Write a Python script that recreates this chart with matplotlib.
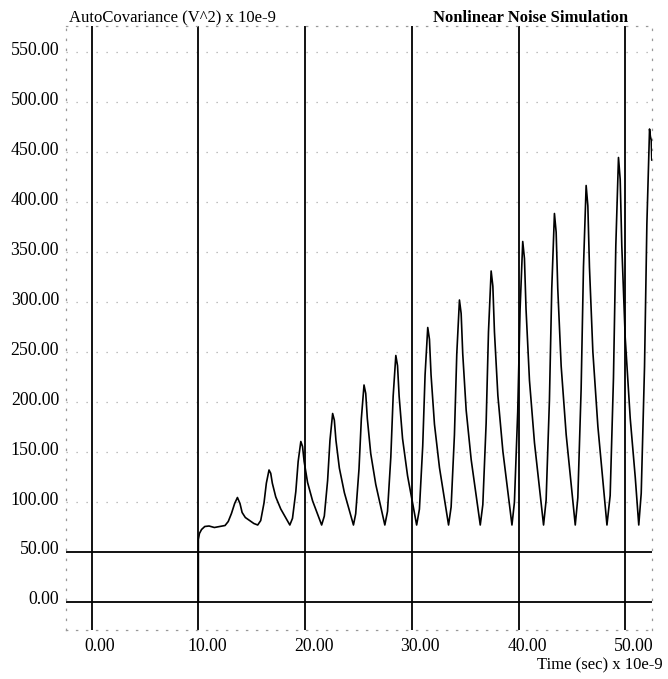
import matplotlib
matplotlib.use("Agg")
import matplotlib.pyplot as plt
import matplotlib.transforms as mtransforms

# autocovariance curve (time in 1e-9 s, value in 1e-9 V^2)
time_ns = [
    10.0, 10.0, 10.1, 10.3, 10.6, 11.0, 11.5, 12.0, 12.5, 12.8, 13.1, 13.4,
    13.66, 13.9, 14.1, 14.4, 14.8, 15.2, 15.56,
    15.84, 16.15, 16.37, 16.62, 16.78, 16.93, 17.25, 17.72, 18.19, 18.57,
    18.82, 19.13, 19.35, 19.6, 19.76, 19.91, 20.23, 20.7, 21.17, 21.55,
    21.8, 22.11, 22.33, 22.58, 22.74, 22.89, 23.21, 23.68, 24.15, 24.53,
    24.74, 25.05, 25.27, 25.52, 25.68, 25.83, 26.15, 26.62, 27.09, 27.47,
    27.72, 28.03, 28.25, 28.5, 28.66, 28.81, 29.13, 29.6, 30.07, 30.45,
    30.71, 31.02, 31.24, 31.49, 31.65, 31.8, 32.12, 32.59, 33.06, 33.44,
    33.68, 33.99, 34.21, 34.46, 34.62, 34.77, 35.09, 35.56, 36.03, 36.41,
    36.65, 36.96, 37.18, 37.43, 37.59, 37.74, 38.06, 38.53, 39.0, 39.38,
    39.61, 39.92, 40.14, 40.39, 40.55, 40.7, 41.02, 41.49, 41.96, 42.34,
    42.58, 42.89, 43.11, 43.36, 43.52, 43.67, 43.99, 44.46, 44.93, 45.31,
    45.55, 45.86, 46.08, 46.33, 46.49, 46.64, 46.96, 47.43, 47.9, 48.28,
    48.58, 48.89, 49.11, 49.36, 49.52, 49.67, 49.99, 50.46, 50.93, 51.26,
    51.49, 51.8, 52.02, 52.27, 52.35, 52.43, 52.48,
]
autocov = [
    0.0, 62.0, 68.0, 72.0, 75.0, 75.5, 74.0, 75.0, 76.0, 80.0, 88.0, 98.0,
    104.0, 98.0, 89.0, 84.0, 81.0, 78.0, 76.5,
    80.9, 98.5, 118.3, 131.5, 128.2, 118.3, 104.6, 92.5, 83.7, 76.5,
    83.2, 109.9, 140.0, 160.0, 155.0, 140.0, 119.1, 100.7, 87.4, 76.5,
    85.4, 121.1, 161.2, 188.0, 181.3, 161.2, 133.4, 108.8, 91.0, 76.5,
    87.7, 132.5, 182.9, 216.5, 208.1, 182.9, 147.9, 117.1, 94.7, 76.5,
    90.1, 144.3, 205.3, 246.0, 235.8, 205.3, 162.9, 125.7, 98.5, 76.5,
    92.3, 155.5, 226.6, 274.0, 262.2, 226.6, 177.2, 133.8, 102.2, 76.5,
    94.5, 166.5, 247.5, 301.5, 288.0, 247.5, 191.3, 141.8, 105.8, 76.5,
    96.8, 178.1, 269.5, 330.5, 315.3, 269.5, 206.0, 150.2, 109.5, 76.5,
    99.2, 189.9, 292.0, 360.0, 343.0, 292.0, 221.1, 158.7, 113.4, 76.5,
    101.4, 201.1, 313.2, 388.0, 369.3, 313.2, 235.4, 166.8, 117.0, 76.5,
    103.7, 212.3, 334.5, 416.0, 395.6, 334.5, 249.6, 175.0, 120.6, 76.5,
    105.9, 223.5, 355.8, 444.0, 422.0, 355.8, 263.9, 183.1, 124.3, 76.5,
    108.2, 234.9, 377.5, 472.5, 465.0, 461.5, 441.5,
]

x_ticks = [0, 10, 20, 30, 40, 50]
y_ticks = [0, 50, 100, 150, 200, 250, 300, 350, 400, 450, 500, 550]
solid_rows = [0, 50]

plt.rcParams['font.family'] = ['Liberation Serif', 'DejaVu Serif']
plt.rcParams['font.size'] = 12

W, H = 668, 679
fig = plt.figure(figsize=(W / 100, H / 100), dpi=100)
ax = fig.add_axes([66 / W, 1 - 630 / H, (652 - 66) / W, (630 - 25.5) / H])

ax.set_xlim(-2.4, 52.5)
ax.set_ylim(-28.5, 576)

dots = (0, (1, 7))
for s in ax.spines.values():
    s.set_linestyle(dots)
    s.set_color('#999999')
    s.set_linewidth(0.9)

for y in y_ticks:
    if y in solid_rows:
        ax.axhline(y, color='black', lw=1.3, zorder=2)
    else:
        ax.axhline(y, color='#aaaaaa', lw=0.9, ls=dots, zorder=1)
for x in x_ticks:
    ax.axvline(x, color='black', lw=1.3, zorder=2)

ax.plot(time_ns, autocov, color='black', lw=1.2, zorder=3)

ax.set_xticks(x_ticks)
ax.set_xticklabels([f"{v:.2f}" for v in x_ticks])
ax.set_yticks(y_ticks)
ax.set_yticklabels([f"{v:.2f}" for v in y_ticks], fontsize=12.8)
ax.tick_params(length=0)
ax.tick_params(axis='x', pad=6, labelsize=12.8)
ax.tick_params(axis='y', pad=5)

shift_x = mtransforms.ScaledTranslation(8.5 / 100, 0, fig.dpi_scale_trans)
for lab in ax.get_xticklabels():
    lab.set_transform(lab.get_transform() + shift_x)
shift_y = mtransforms.ScaledTranslation(0, 3.5 / 100, fig.dpi_scale_trans)
for lab in ax.get_yticklabels():
    lab.set_transform(lab.get_transform() + shift_y)

fig.text(69 / W, 1 - 22 / H, "AutoCovariance (V^2) x 10e-9", ha='left', va='baseline')
fig.text(628 / W, 1 - 22 / H, "Nonlinear Noise Simulation", ha='right', va='baseline',
         fontweight='bold')
fig.text(663 / W, 1 - 669 / H, "Time (sec) x 10e-9", ha='right', va='baseline')

fig.savefig("out.png", dpi=100)
